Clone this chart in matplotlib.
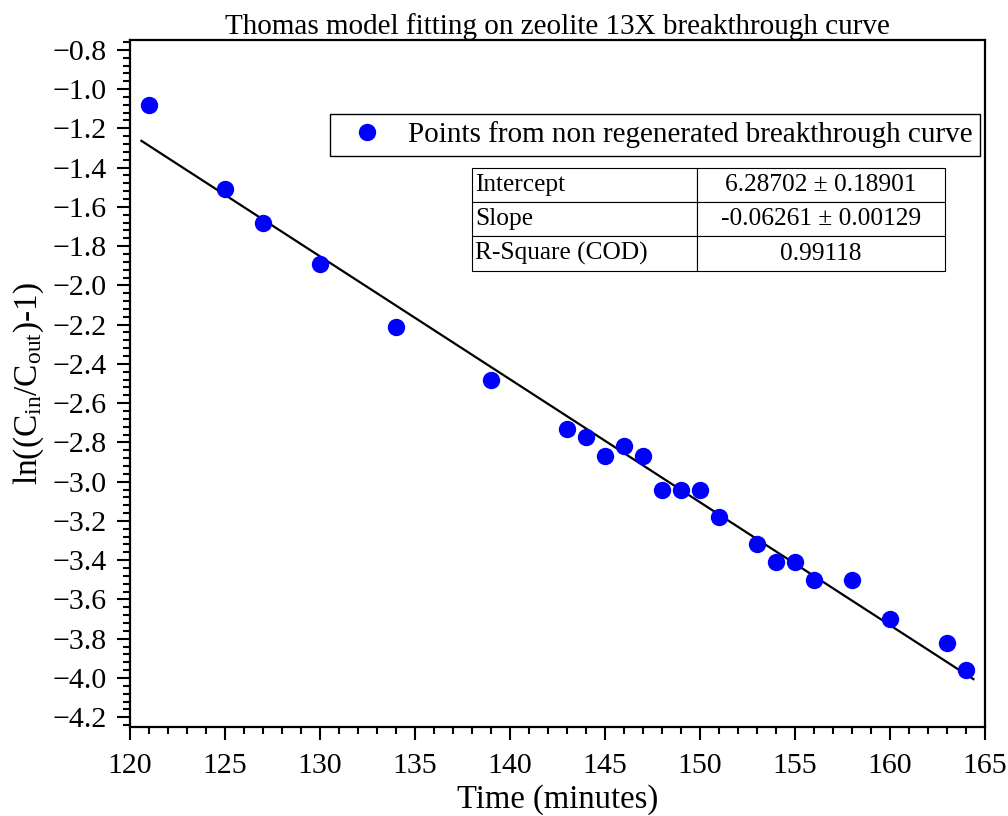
import matplotlib.pyplot as plt
from matplotlib.ticker import MultipleLocator
import numpy as np

plt.rcParams["font.family"] = ["Liberation Serif", "DejaVu Serif"]
plt.rcParams["mathtext.fontset"] = "custom"
plt.rcParams["mathtext.rm"] = "Liberation Serif"
plt.rcParams["mathtext.it"] = "Liberation Serif:italic"

# breakthrough points (time in minutes, ln(Cin/Cout - 1))
time_min = [121, 125, 127, 130, 134, 139, 143, 144, 145, 146, 147, 148, 149,
            150, 151, 153, 154, 155, 156, 158, 160, 163, 164]
ln_ratio = [-1.08, -1.51, -1.68, -1.89, -2.21, -2.48, -2.73, -2.77, -2.87,
            -2.82, -2.87, -3.04, -3.04, -3.04, -3.18, -3.32, -3.41, -3.41,
            -3.50, -3.50, -3.70, -3.82, -3.96]

# linear fit results
intercept = 6.28702
slope = -0.06261
fit_range = [120.6, 164.4]
table_rows = [["Intercept", "6.28702 \u00b1 0.18901"],
              ["Slope", "-0.06261 \u00b1 0.00129"],
              ["R-Square (COD)", "0.99118"]]

fig = plt.figure(figsize=(10.08, 8.16), dpi=100)
ax = fig.add_axes([0.129, 0.109, 0.848, 0.842])

ax.plot(time_min, ln_ratio, "o", color="#0000ff", markersize=11.5,
        label="Points from non regenerated breakthrough curve", zorder=3)
xf = np.linspace(fit_range[0], fit_range[1], 50)
ax.plot(xf, intercept + slope * xf, color="black", linewidth=1.6, zorder=2)

ax.set_xlim(120, 165)
ax.set_ylim(-4.25, -0.75)
ax.xaxis.set_major_locator(MultipleLocator(5))
ax.xaxis.set_minor_locator(MultipleLocator(1))
ax.yaxis.set_major_locator(MultipleLocator(0.2))
ax.yaxis.set_minor_locator(MultipleLocator(0.04))
ax.tick_params(which="both", direction="out", width=1.5, top=False, right=False)
ax.tick_params(which="major", length=9.5, labelsize=21.5)
ax.tick_params(which="minor", length=5)
ax.tick_params(axis="x", which="major", pad=9)
ax.tick_params(axis="y", which="major", pad=7)
for s in ax.spines.values():
    s.set_linewidth(1.6)

ax.set_title("Thomas model fitting on zeolite 13X breakthrough curve",
             fontsize=21, pad=4)
ax.set_xlabel("Time (minutes)", fontsize=23.5, labelpad=4)
ax.set_ylabel(r"ln((C$_{\mathrm{in}}$/C$_{\mathrm{out}}$)-1)", fontsize=24,
              labelpad=5)

leg = ax.legend(loc="upper right", bbox_to_anchor=(0.994, 0.892),
                borderaxespad=0, fancybox=False, edgecolor="black",
                fontsize=21, handletextpad=0.4, borderpad=0.25,
                framealpha=1)
leg.get_frame().set_linewidth(1.0)

tbl = ax.table(cellText=table_rows, colWidths=[0.475, 0.525],
               bbox=[0.400, 0.664, 0.554, 0.150], cellLoc="center")
tbl.auto_set_font_size(False)
tbl.set_fontsize(18.3)
for (r, c), cell in tbl.get_celld().items():
    cell.set_linewidth(0.8)
    if c == 0:
        cell.get_text().set_ha("left")
        cell.PAD = 0.015

fig.savefig("out.png", dpi=100)
